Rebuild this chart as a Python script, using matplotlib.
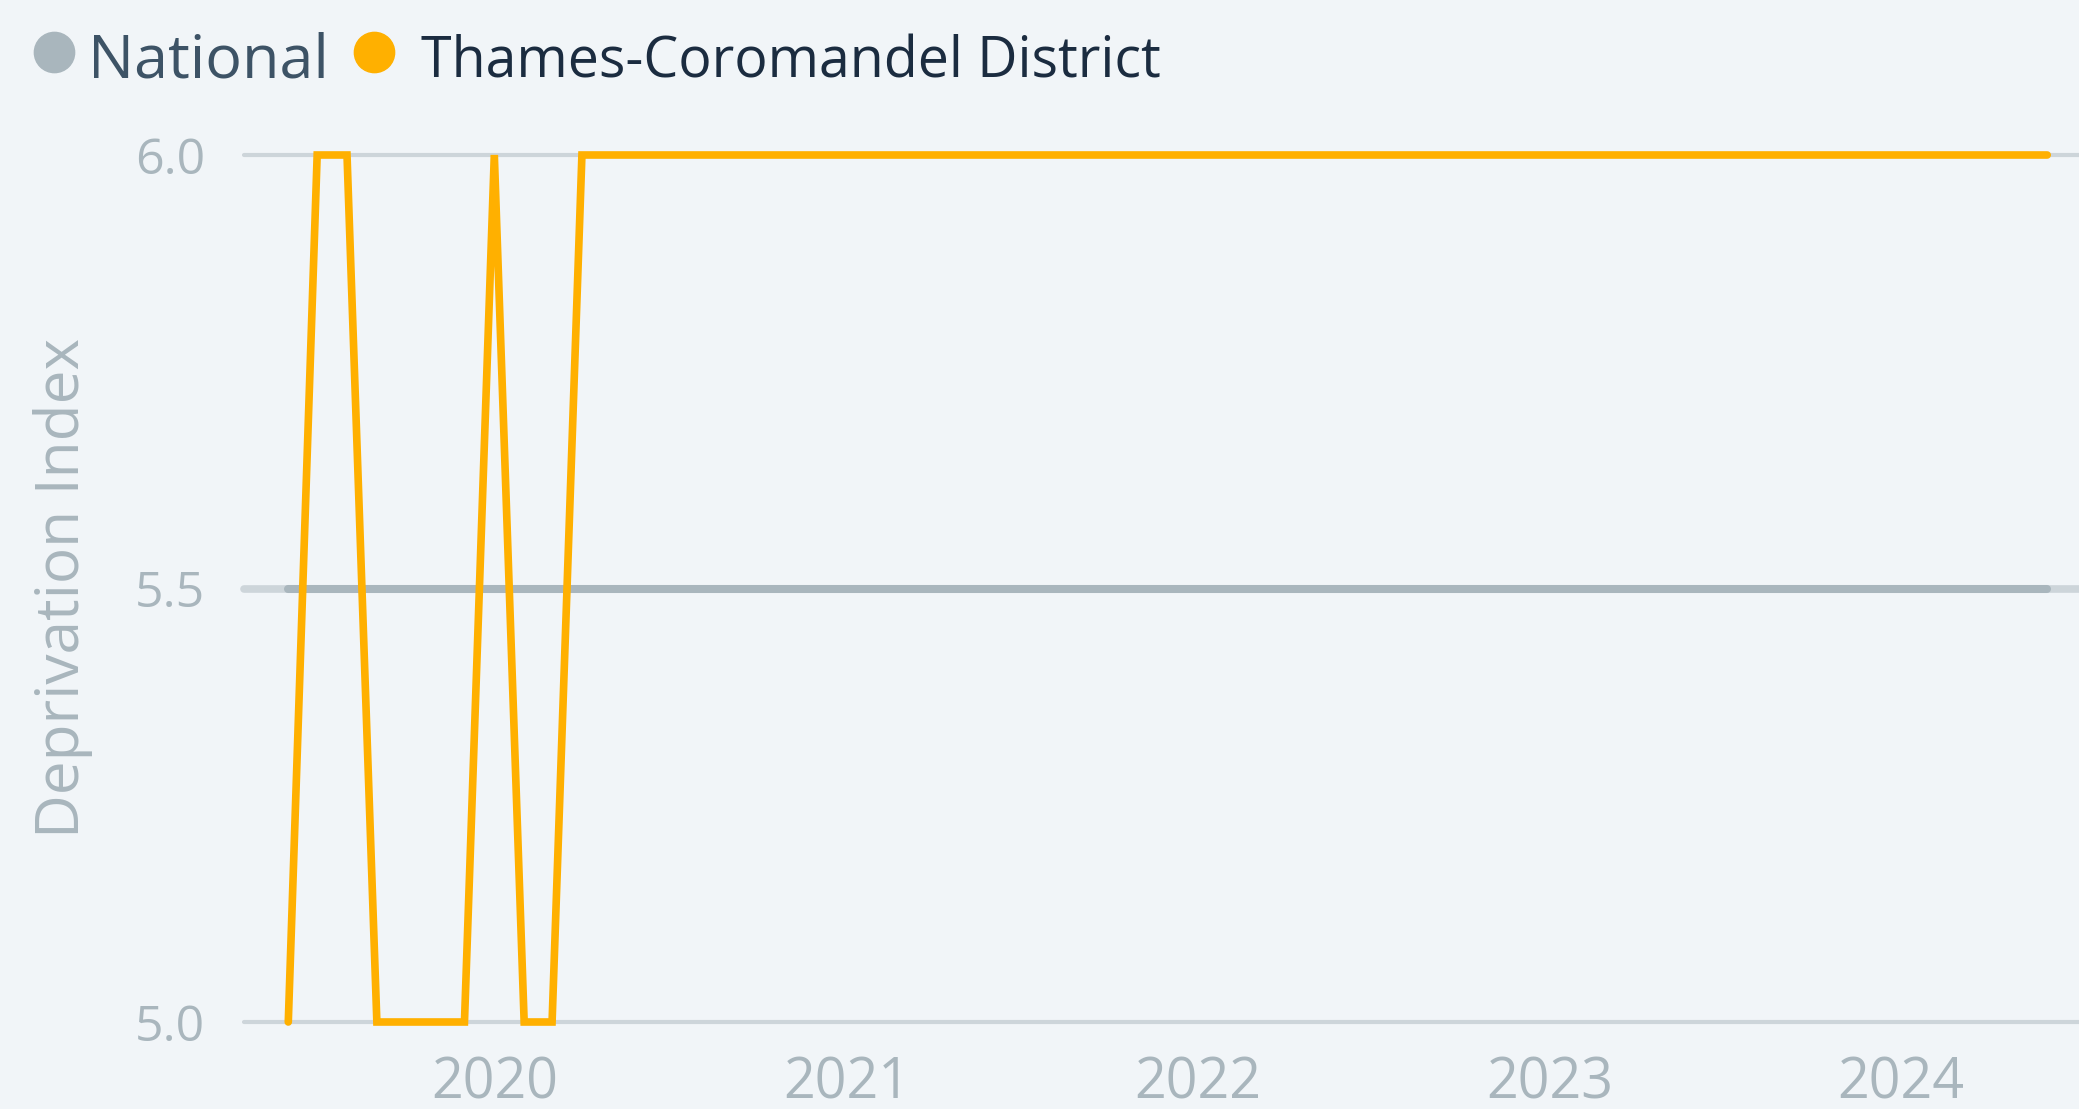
import matplotlib
matplotlib.use("Agg")
from matplotlib import pyplot as plt
from matplotlib.lines import Line2D
import matplotlib.dates as mdates
import pandas as pd

# monthly observations, Jun 2019 .. Jun 2024
months = pd.date_range("2019-06-01", "2024-06-01", freq="MS")

district = [
    5.0, 6.0, 6.0, 5.0, 5.0, 5.0, 5.0,            # Jun-Dec 2019
    6.0, 5.0, 5.0, 6.0, 6.0, 6.0, 6.0, 6.0, 6.0, 6.0, 6.0, 6.0,  # 2020
    6.0, 6.0, 6.0, 6.0, 6.0, 6.0, 6.0, 6.0, 6.0, 6.0, 6.0, 6.0,  # 2021
    6.0, 6.0, 6.0, 6.0, 6.0, 6.0, 6.0, 6.0, 6.0, 6.0, 6.0, 6.0,  # 2022
    6.0, 6.0, 6.0, 6.0, 6.0, 6.0, 6.0, 6.0, 6.0, 6.0, 6.0, 6.0,  # 2023
    6.0, 6.0, 6.0, 6.0, 6.0, 6.0,                  # Jan-Jun 2024
]
national = [5.5] * len(months)

y_ticks = [5.0, 5.5, 6.0]
y_tick_labels = ["5.0", "5.5", "6.0"]
series_names = ["National", "Thames-Coromandel District"]

BG = "#f1f5f8"
GRID = "#cdd5da"
GREY = "#a9b6bd"
ORANGE = "#ffb000"
FONT = "Open Sans"

W, H = 2079, 1109
fig = plt.figure(figsize=(W / 100, H / 100), dpi=100, facecolor=BG)
ax = fig.add_axes([244 / W, 1 - 1022 / H, 1 - 244 / W, (1022 - 155) / H])
ax.set_facecolor(BG)

for yv in y_ticks:
    # the middle gridline sits under the national series and looks wider
    ax.axhline(yv, color=GRID, lw=5.5 if yv == 5.5 else 3, zorder=1,
               clip_on=False, solid_capstyle="round")

ax.plot(months, national, color=GREY, lw=5.8, zorder=2, solid_capstyle="round", clip_on=False)
ax.plot(months, district, color=ORANGE, lw=5.5, zorder=3, solid_capstyle="round",
        solid_joinstyle="miter", clip_on=False)

ax.set_ylim(5.0, 6.0)
ax.set_xlim(pd.Timestamp("2019-04-16"), pd.Timestamp("2024-07-04"))
ax.set_yticks(y_ticks, y_tick_labels)
ax.xaxis.set_major_locator(mdates.YearLocator())
ax.xaxis.set_major_formatter(mdates.DateFormatter("%Y"))
ax.tick_params(axis="both", length=0, colors=GREY)
ax.tick_params(axis="y", labelsize=36, pad=28)
ax.tick_params(axis="x", labelsize=40, pad=24)
for lab in ax.get_xticklabels() + ax.get_yticklabels():
    lab.set_fontfamily(FONT)
for s in ax.spines.values():
    s.set_visible(False)

fig.text(63 / W, 1 - 588 / H, "Deprivation Index", rotation=90, color=GREY,
         fontsize=43.5, family=FONT, ha="center", va="center")

# legend
ly = 1 - 52 / H
fig.add_artist(Line2D([54 / W], [ly], marker="o", ms=29, color=GREY, lw=0,
                      transform=fig.transFigure))
fig.add_artist(Line2D([374 / W], [ly], marker="o", ms=29, color=ORANGE, lw=0,
                      transform=fig.transFigure))
fig.text(88 / W, 1 - 78 / H, series_names[0], color="#3d5366", fontsize=44,
         family=FONT, va="baseline")
fig.text(421 / W, 1 - 78 / H, series_names[1], color="#1b2c40", fontsize=40,
         family=FONT, va="baseline")

fig.savefig("out.png", dpi=100, facecolor=BG)
